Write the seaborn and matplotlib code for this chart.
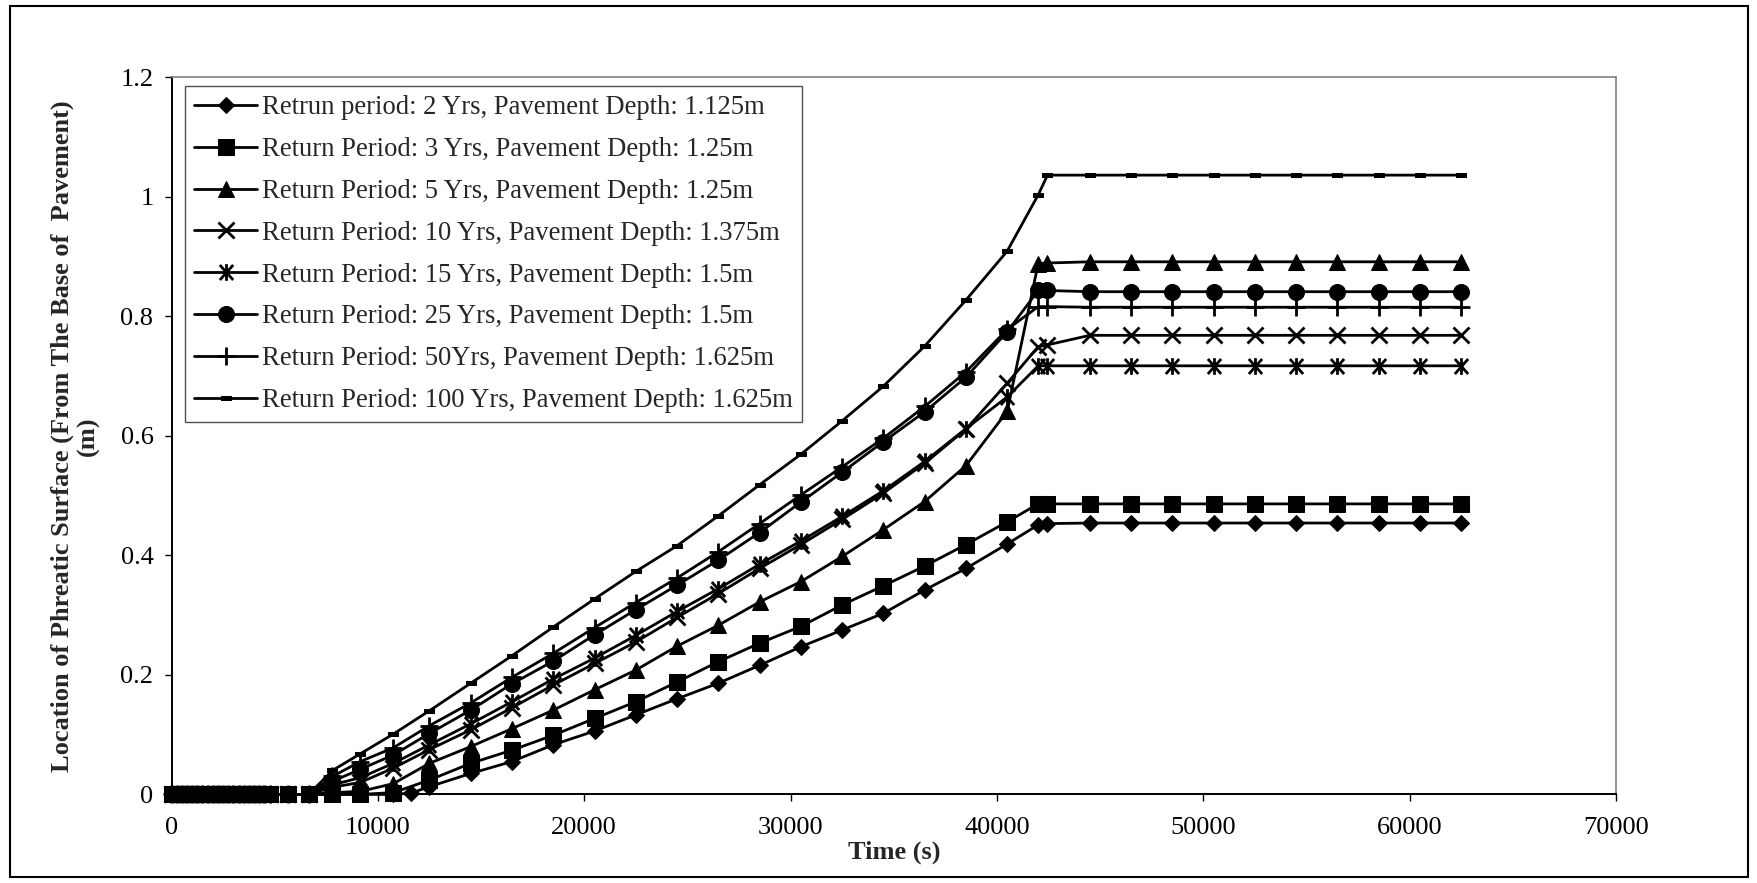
import matplotlib
matplotlib.use("Agg")
import matplotlib.pyplot as plt
import pandas as pd
import seaborn as sns
from matplotlib.path import Path
from matplotlib.patches import Rectangle

# ---- data -------------------------------------------------------------
# early period: phreatic surface still at the pavement base for every case
dry_times = [0, 250, 500, 750, 1000, 1250, 1500, 1750, 2000, 2250,
             2500, 2750, 3000, 3250, 3500, 3750, 4000, 4250, 4500, 4750]
dry_depth = [0.0, 0.0, 0.0, 0.0, 0.0, 0.0, 0.0, 0.0, 0.0, 0.0,
             0.0, 0.0, 0.0, 0.0, 0.0, 0.0, 0.0, 0.0, 0.0, 0.0]

wet_times = [5650, 6650, 7800, 9150, 10750, 12500, 14500, 16500, 18500,
             20500, 22500, 24500, 26500, 28500, 30500, 32500, 34500,
             36500, 38500, 40500, 42000, 42450, 44500, 46500, 48500,
             50500, 52500, 54500, 56500, 58500, 60500, 62500]
wet_times_2yr = [5650, 6650, 7800, 9150, 10750, 11600, 12500, 14500, 16500,
                 18500, 20500, 22500, 24500, 26500, 28500, 30500, 32500,
                 34500, 36500, 38500, 40500, 42000, 42450, 44500, 46500,
                 48500, 50500, 52500, 54500, 56500, 58500, 60500, 62500]

depth_2yr = [0.0, 0.0, 0.0, 0.0, 0.0, 0.002, 0.013, 0.035, 0.055, 0.083,
             0.106, 0.133, 0.160, 0.186, 0.216, 0.247, 0.275, 0.303, 0.342,
             0.378, 0.419, 0.451, 0.453, 0.454, 0.454, 0.454, 0.454, 0.454,
             0.454, 0.454, 0.454, 0.454, 0.454]
depth_3yr = [0.0, 0.0, 0.0, 0.0, 0.003, 0.024, 0.052, 0.074, 0.099, 0.127,
             0.155, 0.188, 0.222, 0.253, 0.281, 0.317, 0.349, 0.382, 0.418,
             0.456, 0.486, 0.486, 0.486, 0.486, 0.486, 0.486, 0.486, 0.486,
             0.486, 0.486, 0.486, 0.486]
depth_5yr = [0.0, 0.0, 0.003, 0.005, 0.018, 0.052, 0.080, 0.110, 0.141, 0.175,
             0.208, 0.248, 0.283, 0.322, 0.356, 0.398, 0.443, 0.490, 0.550,
             0.641, 0.888, 0.889, 0.891, 0.891, 0.891, 0.891, 0.891, 0.891,
             0.891, 0.891, 0.891, 0.891]
depth_10yr = [0.0, 0.0, 0.012, 0.020, 0.044, 0.075, 0.108, 0.145, 0.183, 0.219,
              0.255, 0.296, 0.336, 0.378, 0.418, 0.460, 0.504, 0.554, 0.611,
              0.688, 0.749, 0.752, 0.768, 0.768, 0.768, 0.768, 0.768, 0.768,
              0.768, 0.768, 0.768, 0.768]
depth_15yr = [0.0, 0.0, 0.016, 0.028, 0.052, 0.083, 0.118, 0.155, 0.193, 0.228,
              0.266, 0.306, 0.344, 0.385, 0.424, 0.465, 0.508, 0.557, 0.612,
              0.665, 0.717, 0.717, 0.717, 0.717, 0.717, 0.717, 0.717, 0.717,
              0.717, 0.717, 0.717, 0.717]
depth_25yr = [0.0, 0.0, 0.022, 0.042, 0.066, 0.102, 0.141, 0.185, 0.223, 0.267,
              0.309, 0.350, 0.392, 0.438, 0.489, 0.539, 0.590, 0.640, 0.698,
              0.774, 0.843, 0.843, 0.841, 0.841, 0.841, 0.841, 0.841, 0.841,
              0.841, 0.841, 0.841, 0.841]
depth_50yr = [0.0, 0.0, 0.030, 0.055, 0.078, 0.115, 0.153, 0.196, 0.236, 0.279,
              0.321, 0.362, 0.406, 0.453, 0.501, 0.548, 0.596, 0.649, 0.707,
              0.778, 0.816, 0.816, 0.815, 0.815, 0.815, 0.815, 0.815, 0.815,
              0.815, 0.815, 0.815, 0.815]
depth_100yr = [0.0, 0.0, 0.040, 0.068, 0.101, 0.140, 0.186, 0.232, 0.280, 0.327,
               0.373, 0.416, 0.466, 0.518, 0.569, 0.625, 0.683, 0.750, 0.827,
               0.909, 1.003, 1.036, 1.036, 1.036, 1.036, 1.036, 1.036, 1.036,
               1.036, 1.036, 1.036, 1.036]

series_labels = [
    "Retrun period: 2 Yrs, Pavement Depth: 1.125m",
    "Return Period: 3 Yrs, Pavement Depth: 1.25m",
    "Return Period: 5 Yrs, Pavement Depth: 1.25m",
    "Return Period: 10 Yrs, Pavement Depth: 1.375m",
    "Return Period: 15 Yrs, Pavement Depth: 1.5m",
    "Return Period: 25 Yrs, Pavement Depth: 1.5m",
    "Return Period: 50Yrs, Pavement Depth: 1.625m",
    "Return Period: 100 Yrs, Pavement Depth: 1.625m",
]
series_times = [wet_times_2yr] + [wet_times] * 7
series_depths = [depth_2yr, depth_3yr, depth_5yr, depth_10yr,
                 depth_15yr, depth_25yr, depth_50yr, depth_100yr]

x_ticks = [0, 10000, 20000, 30000, 40000, 50000, 60000, 70000]
y_ticks = [0, 0.2, 0.4, 0.6, 0.8, 1.0, 1.2]
y_tick_labels = ["0", "0.2", "0.4", "0.6", "0.8", "1", "1.2"]

frames = []
for lab, t, d in zip(series_labels, series_times, series_depths):
    frames.append(pd.DataFrame({"time": dry_times + t,
                                "depth": dry_depth + d,
                                "case": lab}))
df = pd.concat(frames, ignore_index=True)

# ---- marker styles ----------------------------------------------------
asterisk = Path([(0, -1), (0, 1), (-0.8, -0.9), (0.8, 0.9), (-0.8, 0.9), (0.8, -0.9)],
                [Path.MOVETO, Path.LINETO, Path.MOVETO, Path.LINETO,
                 Path.MOVETO, Path.LINETO])
dash = [(-1, -0.45), (1, -0.45), (1, 0.45), (-1, 0.45), (-1, -0.45)]

styles = [
    dict(marker="D", markersize=8.2),
    dict(marker="s", markersize=11),
    dict(marker="^", markersize=11.5),
    dict(marker="x", markersize=11, markeredgewidth=2),
    dict(marker=asterisk, markersize=12, markeredgewidth=2, markerfacecolor="none"),
    dict(marker="o", markersize=11.5),
    dict(marker="+", markersize=13, markeredgewidth=2),
    dict(marker=dash, markersize=6.5),
]

# ---- figure -----------------------------------------------------------
sns.set_style("ticks")
plt.rcParams["font.family"] = ["Liberation Serif", "DejaVu Serif"]
plt.rcParams["mathtext.fontset"] = "dejavuserif"

fig = plt.figure(figsize=(17.57, 8.83), dpi=100)
ax = fig.add_axes([171.5 / 1757, 1 - 794.4 / 883,
                   (1616 - 171.5) / 1757, (794.4 - 77.1) / 883])

for lab, st in zip(series_labels, styles):
    sub = df[df["case"] == lab]
    sns.lineplot(data=sub, x="time", y="depth", ax=ax, color="black",
                 linewidth=2, label=lab, estimator=None, sort=False,
                 errorbar=None, clip_on=False,
                 markeredgecolor="black", **st)

ax.set_xlim(0, 70000)
ax.set_ylim(0, 1.2)
ax.set_xticks(x_ticks)
ax.set_xticklabels([str(v) for v in x_ticks])
ax.set_yticks(y_ticks)
ax.set_yticklabels(y_tick_labels)
ax.tick_params(axis="both", direction="out", length=5, width=1,
               labelsize=19, colors="black")
ax.tick_params(axis="x", pad=11)
ax.tick_params(axis="y", pad=8)

for side in ("left", "bottom"):
    ax.spines[side].set_color("black")
    ax.spines[side].set_linewidth(1.4)
for side in ("top", "right"):
    ax.spines[side].set_visible(True)
    ax.spines[side].set_color("#808080")
    ax.spines[side].set_linewidth(1.2)

ax.set_xlabel("Time (s)", fontsize=19, fontweight="bold")
ax.xaxis.set_label_coords(0.5, -0.065)
ax.set_ylabel("Location of Phreatic Surface (From The Base of  Pavement)\n(m)",
              fontsize=19, fontweight="bold", linespacing=1.12)
ax.yaxis.set_label_coords(-0.0495, 0.5)

handles, labels = ax.get_legend_handles_labels()
leg = ax.legend(handles, labels, loc="upper left",
                bbox_to_anchor=(0.0094, 0.9876), borderaxespad=0,
                prop={"size": 19.2}, frameon=True, fancybox=False, shadow=False,
                edgecolor="#505050", framealpha=1, handlelength=2.35,
                handletextpad=0.17, borderpad=0.35, labelspacing=0.63)
leg.get_frame().set_linewidth(1.0)

# outer chart frame
fig.patches.append(Rectangle((10 / 1757, 1 - 877 / 883), 1738 / 1757, 871 / 883,
                             transform=fig.transFigure, fill=False,
                             edgecolor="black", linewidth=1.5))

fig.savefig("out.png", dpi=100, facecolor="white")
